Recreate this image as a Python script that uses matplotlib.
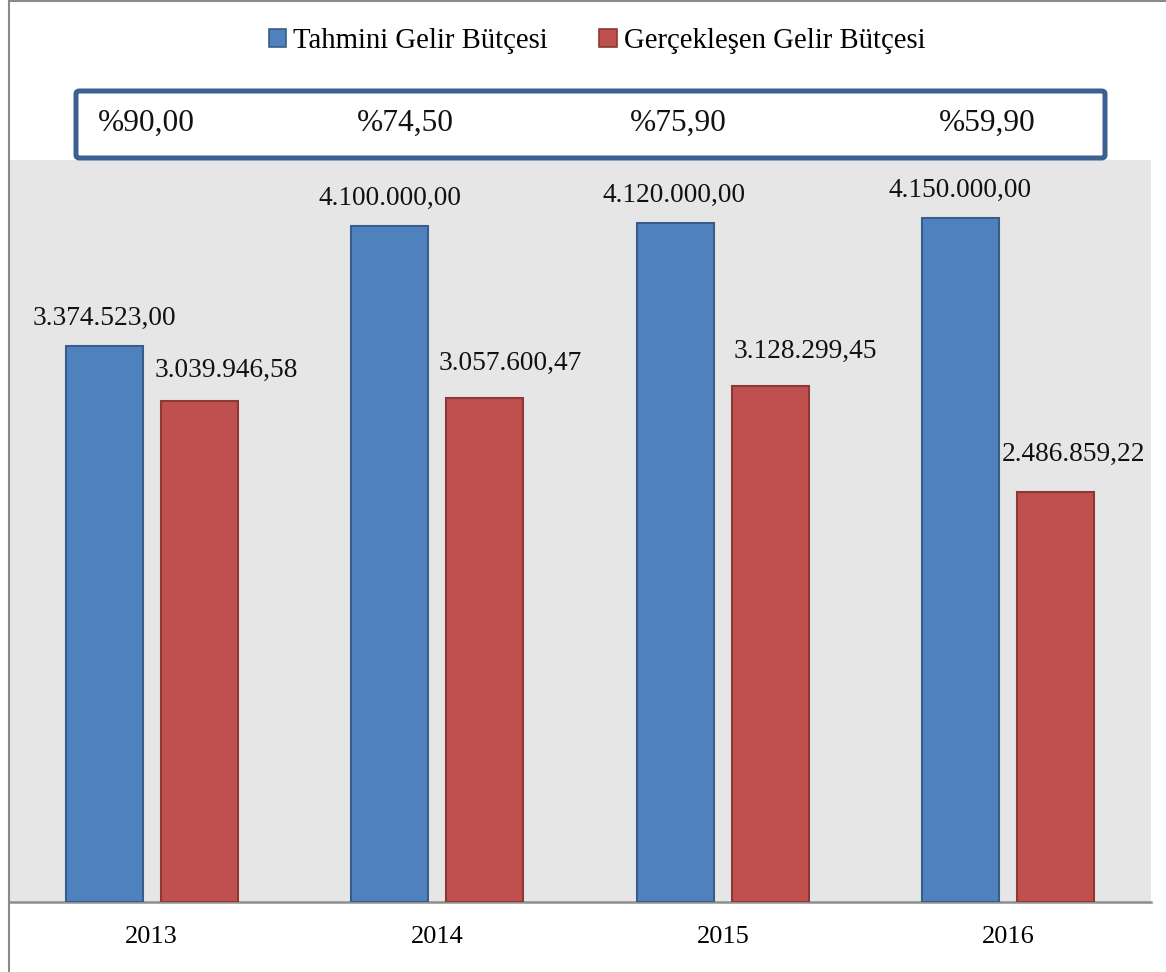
import matplotlib
matplotlib.use("Agg")
import matplotlib.pyplot as plt
from matplotlib.patches import FancyBboxPatch, Patch
from matplotlib.lines import Line2D
import numpy as np

years = ["2013", "2014", "2015", "2016"]
tahmini = [3374523.00, 4100000.00, 4120000.00, 4150000.00]
gerceklesen = [3039946.58, 3057600.47, 3128299.45, 2486859.22]
tahmini_labels = ["3.374.523,00", "4.100.000,00", "4.120.000,00", "4.150.000,00"]
gerceklesen_labels = ["3.039.946,58", "3.057.600,47", "3.128.299,45", "2.486.859,22"]
oranlar = ["%90,00", "%74,50", "%75,90", "%59,90"]
series_names = ["Tahmini Gelir Bütçesi", "Gerçekleşen Gelir Bütçesi"]

FONT = "Liberation Serif"
BLUE, BLUE_E = "#4f81bd", "#385d8a"
RED, RED_E = "#c0504d", "#8c3836"

W, H = 1166, 972
fig = plt.figure(figsize=(W / 100, H / 100), dpi=100)
fig.patch.set_facecolor("white")

ax = fig.add_axes([9 / W, 1 - 902 / H, (1151 - 9) / W, (902 - 160) / H])
ax.set_facecolor("#e6e6e6")
x = np.arange(len(years))
bw = 0.27
off = 0.167
ax.bar(x - off, tahmini, bw, color=BLUE, edgecolor=BLUE_E, linewidth=1.5, zorder=3)
ax.bar(x + off, gerceklesen, bw, color=RED, edgecolor=RED_E, linewidth=1.5, zorder=3)
ax.set_xlim(-0.5, 3.5)
ax.set_ylim(0, 4500000)
ax.set_yticks([])
ax.set_xticks(x)
ax.set_xticklabels(years, fontfamily=FONT, fontsize=19)
ax.tick_params(axis="x", length=0, pad=17)
for s in ["left", "right", "top"]:
    ax.spines[s].set_visible(False)
ax.spines["bottom"].set_color("#8e8e8e")
ax.spines["bottom"].set_linewidth(1.8)

blue_dx = [0, 0, -1, -1]
blue_dy = [27, 28, 27, 27]
red_dx = [27, 25, 35, 18]
red_dy = [30, 34, 35, 38]
for i in range(len(years)):
    ax.annotate(tahmini_labels[i], xy=(x[i] - off, tahmini[i]), xytext=(blue_dx[i], blue_dy[i]),
                textcoords="offset pixels", ha="center", va="center",
                fontfamily=FONT, fontsize=19.7, color="#111111", zorder=5)
    ax.annotate(gerceklesen_labels[i], xy=(x[i] + off, gerceklesen[i]), xytext=(red_dx[i], red_dy[i]),
                textcoords="offset pixels", ha="center", va="center",
                fontfamily=FONT, fontsize=19.7, color="#111111", zorder=5)

# percentage box
box = FancyBboxPatch((76 / W, 1 - 158 / H), (1105 - 76) / W, (158 - 91) / H,
                     boxstyle="round,pad=0,rounding_size=0.003",
                     transform=fig.transFigure, facecolor="white",
                     edgecolor="#3c6190", linewidth=3.6, zorder=10)
fig.patches.append(box)
pct_left = [98, 357, 630, 939]
for lx, t in zip(pct_left, oranlar):
    fig.text(lx / W, 1 - 123 / H, t, ha="left", va="center", fontfamily=FONT,
             fontsize=22.6, color="#111111", zorder=11)

# legend
handles = [Patch(facecolor=BLUE, edgecolor=BLUE_E, linewidth=1.2),
           Patch(facecolor=RED, edgecolor=RED_E, linewidth=1.2)]
fig.legend(handles, series_names, loc="center", bbox_to_anchor=(597 / W, 1 - 41 / H),
           ncol=2, frameon=False, prop={"family": FONT, "size": 20.7},
           handlelength=0.6, handleheight=0.6, handletextpad=0.25, columnspacing=1.8)

# outer border
fig.add_artist(Line2D([8.5 / W, 8.5 / W], [0, 1], transform=fig.transFigure, color="#8a8a8a", linewidth=1.5))
fig.add_artist(Line2D([8.5 / W, 1], [1 - 0.8 / H, 1 - 0.8 / H], transform=fig.transFigure, color="#8a8a8a", linewidth=1.5))

fig.savefig("out.png", dpi=100, facecolor="white")
